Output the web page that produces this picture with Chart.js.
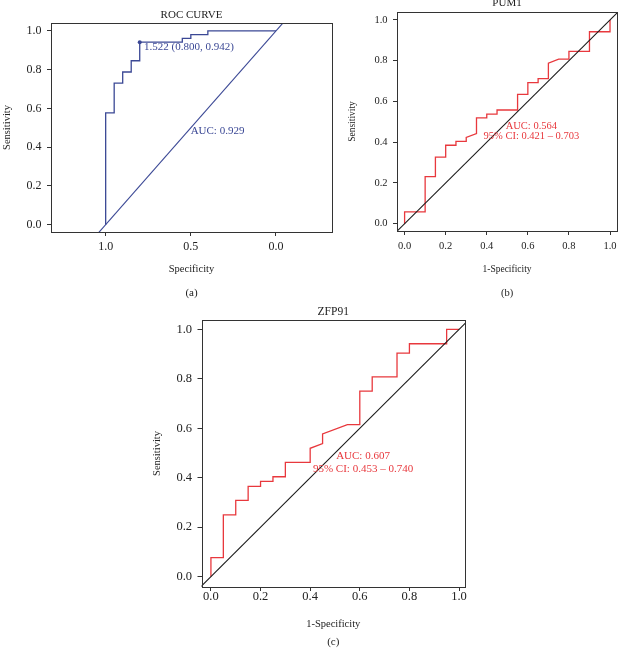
<!DOCTYPE html>
<html>
<head>
<meta charset="utf-8">
<script src="https://cdn.jsdelivr.net/npm/chart.js@4.4.1/dist/chart.umd.min.js"></script>
<style>
html, body { margin: 0; padding: 0; background: #fff; }
body { width: 618px; height: 652px; position: relative; overflow: hidden; }
canvas { position: absolute; }
</style>
</head>
<body>
<canvas id="cA"></canvas>
<canvas id="cB"></canvas>
<canvas id="cC"></canvas>
<script>
// (a) ROC CURVE - specificity (reversed axis) vs sensitivity
const rocSpec = [1.0, 1.0, 0.95, 0.95, 0.9, 0.9, 0.85, 0.85, 0.8, 0.8, 0.55, 0.55, 0.5, 0.5, 0.4, 0.4, 0.0];
const rocSens = [0.0, 0.577, 0.577, 0.731, 0.731, 0.788, 0.788, 0.846, 0.846, 0.942, 0.942, 0.962, 0.962, 0.981, 0.981, 1.0, 1.0];
const rocCutSpec = [0.8];
const rocCutSens = [0.942];
const chanceSpec = [1.2, -0.5];
const chanceSens = [-0.2, 1.5];

// (b) PUM1 - 1-specificity vs sensitivity
const pum1Fpr = [0, 0, 0.1, 0.1, 0.15, 0.15, 0.2, 0.2, 0.25, 0.25, 0.3, 0.3, 0.35, 0.35, 0.4, 0.4, 0.45, 0.45,
                 0.55, 0.55, 0.6, 0.6, 0.65, 0.65, 0.7, 0.7, 0.75, 0.8, 0.8, 0.9, 0.9, 1.0, 1.0];
const pum1Tpr = [0, 0.058, 0.058, 0.231, 0.231, 0.327, 0.327, 0.385, 0.385, 0.404, 0.404, 0.423, 0.442, 0.519, 0.519, 0.538, 0.538, 0.558,
                 0.558, 0.635, 0.635, 0.692, 0.692, 0.712, 0.712, 0.788, 0.808, 0.808, 0.846, 0.846, 0.942, 0.942, 1.0];

// (c) ZFP91
const zfpFpr = [0, 0, 0.05, 0.05, 0.1, 0.1, 0.15, 0.15, 0.2, 0.2, 0.25, 0.25, 0.3, 0.3, 0.4, 0.4, 0.45, 0.45,
                0.55, 0.6, 0.6, 0.65, 0.65, 0.75, 0.75, 0.8, 0.8, 0.95, 0.95, 1.0];
const zfpTpr = [0, 0.077, 0.077, 0.25, 0.25, 0.308, 0.308, 0.365, 0.365, 0.385, 0.385, 0.404, 0.404, 0.462, 0.462, 0.519, 0.538, 0.577,
                0.615, 0.615, 0.75, 0.75, 0.808, 0.808, 0.904, 0.904, 0.942, 0.942, 1.0, 1.0];

const chanceX = [-0.2, 1.2];
const chanceY = [-0.2, 1.2];

const specTicks = [1.0, 0.5, 0.0];
const unitTicks = [0.0, 0.2, 0.4, 0.6, 0.8, 1.0];

const SERIF = '"Liberation Serif", "DejaVu Serif", serif';
const BLUE = '#3b4895';
const RED = '#e8383d';
const INK = '#333333';

function pts(xs, ys) { return xs.map((x, i) => ({ x: x, y: ys[i] })); }

const boxPlugin = {
  id: 'box',
  afterDraw(chart) {
    const a = chart.chartArea, ctx = chart.ctx;
    const l = Math.round(a.left), t = Math.round(a.top), r = Math.round(a.right), b = Math.round(a.bottom);
    ctx.save();
    ctx.strokeStyle = INK;
    ctx.lineWidth = 1;
    ctx.strokeRect(l + 0.5, t + 0.5, r - l, b - t);
    ctx.restore();
  }
};

function notesPlugin(notes) {
  return {
    id: 'notes',
    afterDatasetsDraw(chart) {
      const ctx = chart.ctx, sx = chart.scales.x, sy = chart.scales.y;
      ctx.save();
      notes.forEach(n => {
        ctx.font = n.size + 'px ' + SERIF;
        ctx.fillStyle = n.color;
        ctx.textAlign = n.align;
        ctx.textBaseline = 'middle';
        ctx.fillText(n.text, sx.getPixelForValue(n.x), sy.getPixelForValue(n.y));
      });
      ctx.restore();
    }
  };
}

function makePanel(id, p) {
  const cv = document.getElementById(id);
  const [cx, cy, W, H] = p.canvas;
  cv.width = W; cv.height = H;
  cv.style.left = cx + 'px'; cv.style.top = cy + 'px';
  cv.style.width = W + 'px'; cv.style.height = H + 'px';

  const L = p.box[0] - cx, T = p.box[1] - cy, R = p.box[2] - cx, B = p.box[3] - cy;
  const lhT = p.fs.title * 1.2, lhL = p.fs.label * 1.2, lhK = p.fs.tick * 1.2, lhG = p.fs.tag * 1.2;
  const tl = 4;

  const titleTop = (p.titleY - cy) - lhT / 2;
  const titleBottom = T - titleTop - lhT;
  const tagBottom = H - (p.tagY - cy) - lhG / 2;
  const tagTop = H - tagBottom - lhG;
  const xAxisH = tagTop - B;
  const xTitleBottom = tagTop - (p.xLabelY - cy) - lhL / 2;
  const yTitleTop = (p.yLabelX - cx) - lhL / 2;
  const xTickPad = (p.xTickY - cy) - B - tl - lhK / 2;
  const yTickPad = 5.5;

  const tickFont = { family: SERIF, size: p.fs.tick };
  const labelFont = { family: SERIF, size: p.fs.label };

  return new Chart(cv, {
    type: 'scatter',
    data: { datasets: p.datasets },
    options: {
      responsive: false,
      devicePixelRatio: 1,
      animation: false,
      layout: { padding: { left: 0, top: 0, right: W - R, bottom: 0 } },
      plugins: {
        legend: { display: false },
        tooltip: { enabled: false },
        title: {
          display: true, text: p.title, fullSize: false, color: '#222',
          font: { family: SERIF, size: p.fs.title, weight: 'normal' },
          padding: { top: titleTop, bottom: titleBottom }
        },
        subtitle: {
          display: true, text: p.tag, position: 'bottom', fullSize: false, color: '#222',
          font: { family: SERIF, size: p.fs.tag },
          padding: { top: 0, bottom: tagBottom }
        }
      },
      scales: {
        x: {
          type: 'linear', min: p.xMin, max: p.xMax, reverse: !!p.xReverse,
          afterBuildTicks: s => { s.ticks = p.xTicks.map(v => ({ value: v })); },
          afterFit: s => { s.height = xAxisH; s.paddingLeft = 0; s.paddingRight = 0; },
          grid: { display: true, drawOnChartArea: false, drawTicks: true, tickLength: tl, color: INK, lineWidth: 1 },
          border: { display: false },
          ticks: { autoSkip: false, maxRotation: 0, minRotation: 0, padding: xTickPad, font: tickFont, color: '#222',
                   callback: v => Number(v).toFixed(1) },
          title: { display: true, text: p.xLabel, font: labelFont, color: '#222', padding: { top: 0, bottom: xTitleBottom } }
        },
        y: {
          type: 'linear', min: p.yMin, max: p.yMax,
          afterBuildTicks: s => { s.ticks = unitTicks.map(v => ({ value: v })); },
          afterFit: s => { s.width = L; s.paddingTop = 0; s.paddingBottom = 0; },
          grid: { display: true, drawOnChartArea: false, drawTicks: true, tickLength: tl, color: INK, lineWidth: 1 },
          border: { display: false },
          ticks: { autoSkip: false, padding: yTickPad, font: tickFont, color: '#222',
                   callback: v => Number(v).toFixed(1) },
          title: { display: true, text: 'Sensitivity', font: labelFont, color: '#222', padding: { top: yTitleTop, bottom: 0 } }
        }
      }
    },
    plugins: [boxPlugin, notesPlugin(p.notes)]
  });
}

function curve(xs, ys, color, width) {
  return { data: pts(xs, ys), showLine: true, borderColor: color, borderWidth: width,
           pointRadius: 0, fill: false, clip: 0 };
}

makePanel('cA', {
  canvas: [0, 0, 340, 305],
  box: [51, 23, 332, 232],
  xMin: -0.329, xMax: 1.321, xReverse: true, yMin: -0.038, yMax: 1.041,
  xTicks: specTicks,
  title: 'ROC CURVE', tag: '(a)', xLabel: 'Specificity',
  titleY: 15, tagY: 293, xLabelY: 269, yLabelX: 7.5, xTickY: 247,
  fs: { title: 11, label: 10.5, tick: 12, tag: 11 },
  datasets: [
    curve(chanceSpec, chanceSens, BLUE, 1.1),
    curve(rocSpec, rocSens, BLUE, 1.3),
    { data: pts(rocCutSpec, rocCutSens), showLine: false, pointRadius: 2, pointBackgroundColor: BLUE,
      pointBorderColor: BLUE, pointBorderWidth: 0, clip: 0 }
  ],
  notes: [
    { x: 0.775, y: 0.915, text: '1.522 (0.800, 0.942)', align: 'left', size: 11, color: BLUE },
    { x: 0.501, y: 0.484, text: 'AUC: 0.929', align: 'left', size: 11, color: BLUE }
  ]
});

makePanel('cB', {
  canvas: [340, -10, 278, 315],
  box: [397, 12, 617, 231],
  xMin: -0.037, xMax: 1.034, yMin: -0.036, yMax: 1.039,
  xTicks: unitTicks,
  title: 'PUM1', tag: '(b)', xLabel: '1-Specificity',
  titleY: 3, tagY: 293, xLabelY: 269, yLabelX: 352.5, xTickY: 246.7,
  fs: { title: 11, label: 9.5, tick: 10.5, tag: 10.5 },
  datasets: [
    curve(chanceX, chanceY, '#1a1a1a', 1.1),
    curve(pum1Fpr, pum1Tpr, RED, 1.3)
  ],
  notes: [
    { x: 0.617, y: 0.48, text: 'AUC: 0.564', align: 'center', size: 10.5, color: RED },
    { x: 0.617, y: 0.427, text: '95% CI: 0.421 \u2013 0.703', align: 'center', size: 10.5, color: RED }
  ]
});

makePanel('cC', {
  canvas: [140, 300, 340, 352],
  box: [201.5, 320, 465, 587],
  xMin: -0.038, xMax: 1.024, yMin: -0.042, yMax: 1.038,
  xTicks: unitTicks,
  title: 'ZFP91', tag: '(c)', xLabel: '1-Specificity',
  titleY: 311.5, tagY: 642, xLabelY: 624, yLabelX: 157, xTickY: 597.2,
  fs: { title: 11.5, label: 10.5, tick: 12.5, tag: 11 },
  datasets: [
    curve(chanceX, chanceY, '#1a1a1a', 1.1),
    curve(zfpFpr, zfpTpr, RED, 1.3)
  ],
  notes: [
    { x: 0.613, y: 0.489, text: 'AUC: 0.607', align: 'center', size: 11, color: RED },
    { x: 0.613, y: 0.433, text: '95% CI: 0.453 \u2013 0.740', align: 'center', size: 11, color: RED }
  ]
});
</script>
</body>
</html>
